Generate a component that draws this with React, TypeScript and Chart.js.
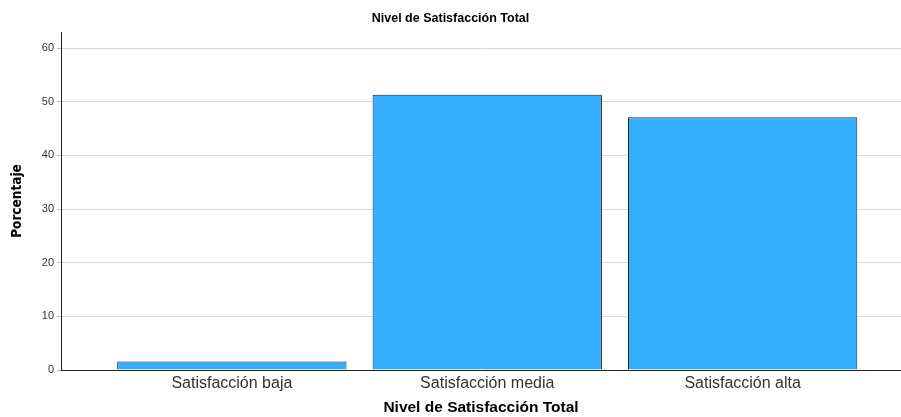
import React, { useEffect, useRef } from "react";
import { Chart, registerables } from "chart.js";

Chart.register(...registerables);

const categories = ["Satisfacción baja", "Satisfacción media", "Satisfacción alta"];
const percentages = [1.6, 51.3, 47.1];
const yTicks = [0, 10, 20, 30, 40, 50, 60];
const chartTitle = "Nivel de Satisfacción Total";
const xAxisTitle = "Nivel de Satisfacción Total";
const yAxisTitle = "Porcentaje";

const FONT = "'Liberation Sans', Arial, sans-serif";
const NARROW = "'Liberation Sans Narrow', 'DejaVu Sans Condensed', 'Liberation Sans', sans-serif";

export default function App() {
  const ref = useRef<HTMLCanvasElement | null>(null);

  useEffect(() => {
    document.body.style.margin = "0";
    const canvas = ref.current;
    if (!canvas) return;
    const chart = new Chart(canvas, {
      type: "bar",
      data: {
        datasets: [
          {
            data: percentages.map((v, i) => ({ x: i, y: v })),
            backgroundColor: "#33adff",
            borderColor: "#1b2633",
            borderWidth: 1,
            barPercentage: 0.898,
            categoryPercentage: 1,
          },
        ],
      },
      options: {
        animation: false,
        responsive: false,
        maintainAspectRatio: false,
        layout: { padding: 0 },
        plugins: {
          legend: { display: false },
          tooltip: { enabled: false },
          title: {
            display: true,
            text: chartTitle,
            color: "#000",
            font: { family: FONT, size: 12.5, weight: "bold" },
            padding: { top: 11, bottom: 6 },
          },
        },
        scales: {
          x: {
            type: "linear",
            offset: false,
            bounds: "data",
            grace: 0,
            min: -0.669,
            max: 2.62,
            afterDataLimits: (s: any) => {
              s.min = -0.669;
              s.max = 2.62;
            },
            afterBuildTicks: (s: any) => {
              s.ticks = categories.map((_, i) => ({ value: i }));
            },
            afterFit: (s: any) => {
              s.height = 47;
            },
            grid: { display: true, offset: false, drawOnChartArea: false, drawTicks: false },
            border: { display: true, color: "#222", width: 1 },
            ticks: {
              autoSkip: false,
              maxRotation: 0,
              padding: 4,
              color: "#333",
              font: { family: FONT, size: 16 },
              callback: (v: any) => categories[Math.round(Number(v))] ?? "",
            },
            title: {
              display: true,
              text: xAxisTitle,
              color: "#000",
              font: { family: FONT, size: 15.5, weight: "bold" },
              padding: { top: 2, bottom: 0 },
            },
          },
          y: {
            min: 0,
            max: 63,
            afterBuildTicks: (s: any) => {
              s.ticks = yTicks.map((v) => ({ value: v }));
            },
            afterFit: (s: any) => {
              s.width = 61;
            },
            grid: { color: "#d9d9d9", lineWidth: 1, tickLength: 4, tickColor: "#bbb" },
            border: { display: true, color: "#222", width: 1 },
            ticks: {
              padding: 3,
              color: "#333",
              font: { family: FONT, size: 11 },
            },
            title: {
              display: true,
              text: yAxisTitle,
              color: "#000",
              font: { family: NARROW, size: 13.5, weight: "bold" },
              padding: { top: 9, bottom: 0 },
            },
          },
        },
      },
    });
    return () => chart.destroy();
  }, []);

  return (
    <div style={{ width: 901, height: 417 }}>
      <canvas ref={ref} width={901} height={417} style={{ display: "block" }} />
    </div>
  );
}
